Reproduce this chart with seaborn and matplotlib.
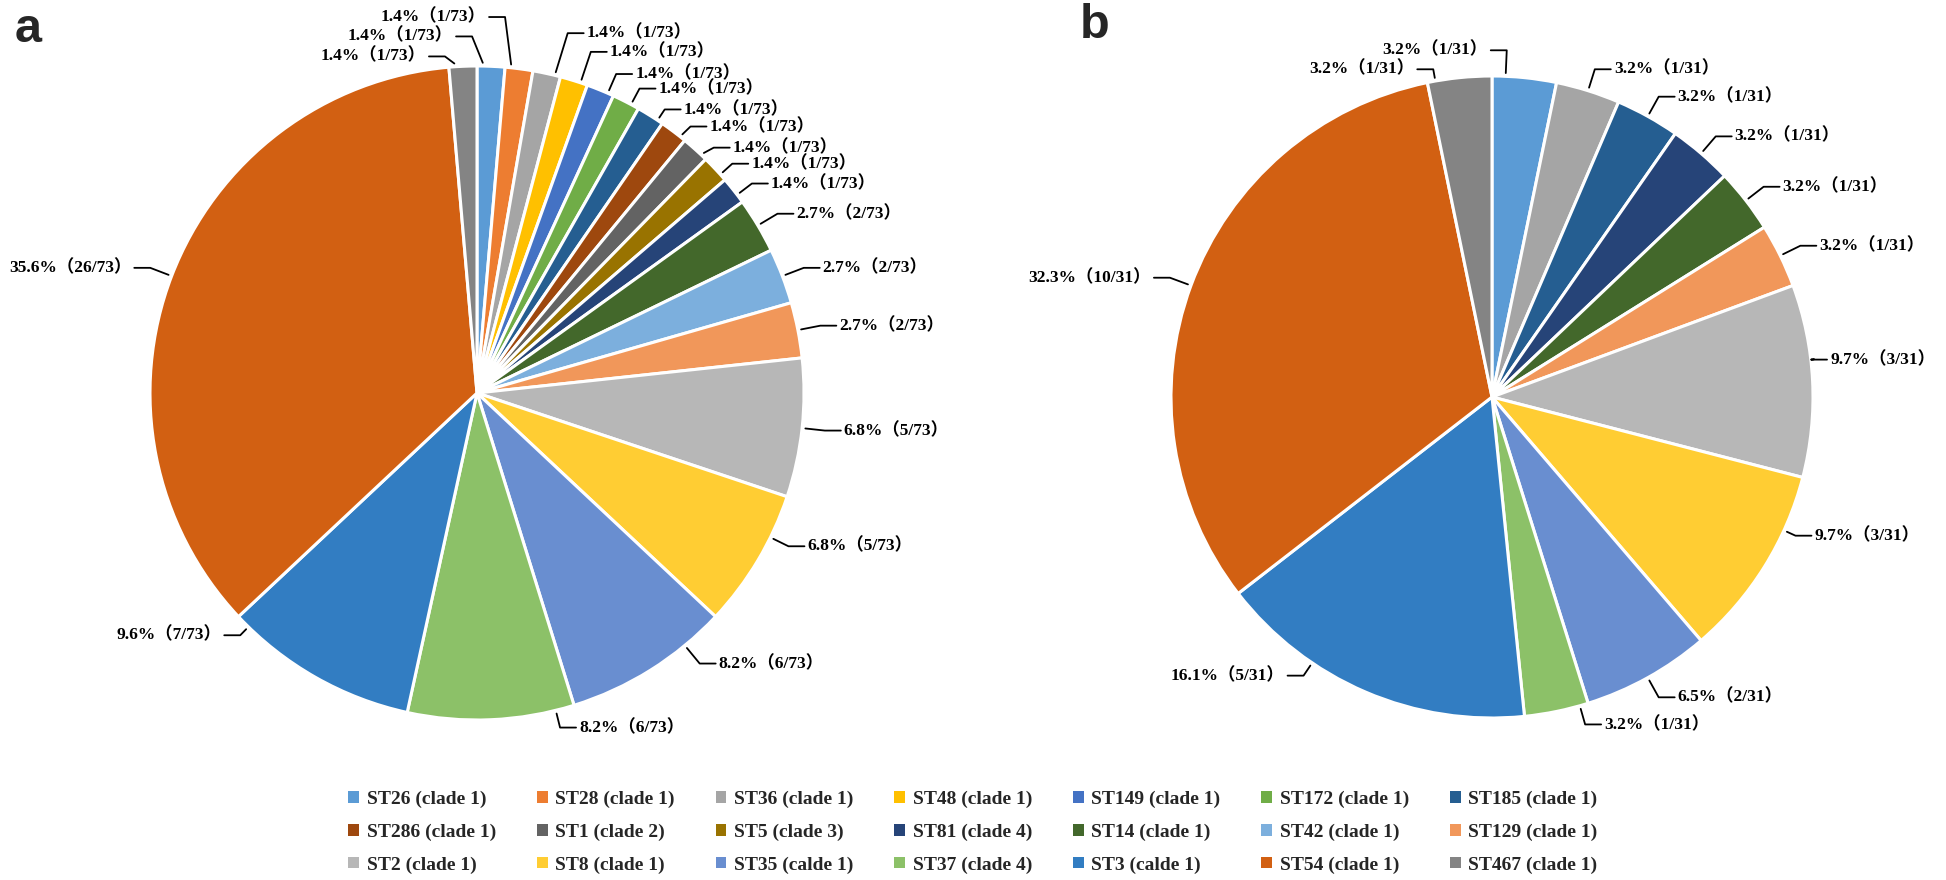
import numpy as np
import matplotlib.pyplot as plt
import seaborn as sns
from matplotlib.patches import Patch

sns.set_theme(style="white")
plt.rcParams['font.family'] = ['Liberation Serif', 'Noto Sans CJK SC']

# sequence types as listed in the legend, with their colours
st_keys = ['ST26', 'ST28', 'ST36', 'ST48', 'ST149', 'ST172', 'ST185',
           'ST286', 'ST1', 'ST5', 'ST81', 'ST14', 'ST42', 'ST129',
           'ST2', 'ST8', 'ST35', 'ST37', 'ST3', 'ST54', 'ST467']
st_labels = ['ST26 (clade 1)', 'ST28 (clade 1)', 'ST36 (clade 1)', 'ST48 (clade 1)',
             'ST149 (clade 1)', 'ST172 (clade 1)', 'ST185 (clade 1)',
             'ST286 (clade 1)', 'ST1 (clade 2)', 'ST5 (clade 3)', 'ST81 (clade 4)',
             'ST14 (clade 1)', 'ST42 (clade 1)', 'ST129 (clade 1)',
             'ST2 (clade 1)', 'ST8 (clade 1)', 'ST35 (calde 1)', 'ST37 (clade 4)',
             'ST3 (calde 1)', 'ST54 (clade 1)', 'ST467 (clade 1)']
st_colors = ['#5B9BD5', '#ED7D31', '#A5A5A5', '#FFC000', '#4472C4', '#70AD47', '#255E91',
             '#9E480E', '#636363', '#997300', '#264478', '#43682B', '#7CAFDD', '#F1975A',
             '#B7B7B7', '#FFCD33', '#698ED0', '#8CC168', '#327DC2', '#D26012', '#848484']
color_of = dict(zip(st_keys, st_colors))

# panel a (73 isolates), slices clockwise from 12 o'clock
a_types = ['ST26', 'ST28', 'ST36', 'ST48', 'ST149', 'ST172', 'ST185', 'ST286', 'ST1',
           'ST5', 'ST81', 'ST14', 'ST42', 'ST129', 'ST2', 'ST8', 'ST35', 'ST37',
           'ST3', 'ST54', 'ST467']
a_counts = [1, 1, 1, 1, 1, 1, 1, 1, 1, 1, 1, 2, 2, 2, 5, 5, 6, 6, 7, 26, 1]

# panel b (31 isolates)
b_types = ['ST26', 'ST36', 'ST185', 'ST81', 'ST14', 'ST129', 'ST2', 'ST8', 'ST35',
           'ST37', 'ST3', 'ST54', 'ST467']
b_counts = [1, 1, 1, 1, 1, 1, 3, 3, 2, 1, 5, 10, 1]

W, H = 1946, 880


def draw_labels(ax, counts, cx, cy, R, nudges):
    n = sum(counts)
    edges = np.cumsum([0] + counts) / n * 360
    for i, c in enumerate(counts):
        start, end = edges[i], edges[i + 1]
        mid = (start + end) / 2
        t = np.radians(mid)
        dx, dy = nudges.get(i, (0, 0))
        ex = cx + 1.07 * R * np.sin(t) + dx
        ey = cy + 1.07 * R * np.cos(t) + dy
        # leader starts on the rim, towards the elbow but inside the slice
        ang = np.degrees(np.arctan2(ex - cx, ey - cy))
        d = (ang - mid + 180) % 360 - 180
        half = (end - start) / 2 - min(1.0, (end - start) / 4)
        pa = np.radians(mid + np.clip(d, -half, half))
        px = cx + 1.01 * R * np.sin(pa)
        py = cy + 1.01 * R * np.cos(pa)
        right = 10 < mid < 180
        sgn = 1 if right else -1
        tx = ex + sgn * 16
        ax.plot([px, ex, tx], [py, ey, ey], color='black', lw=1.3)
        label = f"{100 * c / n:.1f}%（{c}/{n}）"
        ax.text(tx + sgn * 3, ey, label, ha='left' if right else 'right', va='center',
                fontsize=12.5, fontweight='bold', color='black')


fig = plt.figure(figsize=(W / 100, H / 100), dpi=100)
ax = fig.add_axes([0, 0, 1, 1])

ca = (477, H - 393)
cb = (1492, H - 397)
Ra, Rb = 327, 321

wp = dict(edgecolor='white', linewidth=2.2)
ax.pie(a_counts, colors=[color_of[s] for s in a_types], startangle=90, counterclock=False,
       center=ca, radius=Ra, wedgeprops=wp)
ax.pie(b_counts, colors=[color_of[s] for s in b_types], startangle=90, counterclock=False,
       center=cb, radius=Rb, wedgeprops=wp)

draw_labels(ax, a_counts, ca[0], ca[1], Ra,
            {0: (-20, 7), 1: (-17, 29), 2: (16, 18), 3: (10, 7), 4: (7, -5),
             5: (3, -7), 6: (2, -13), 7: (3, -13), 8: (3, -15), 9: (0, -10),
             10: (0, -7), 20: (-17, -13), 15: (11, 26),
             16: (37, 26), 17: (68, 15), 18: (-64, 62)})
draw_labels(ax, b_counts, cb[0], cb[1], Rb,
            {0: (-20, 5), 12: (-24, -14), 6: (-24, 20), 10: (-53, 37),
             7: (12, 43), 9: (24, 9)})

ax.set_xlim(0, W)
ax.set_ylim(0, H)
ax.set_aspect('auto')
ax.axis('off')

fig.text(15 / W, 1 - 42 / H, 'a', fontsize=35, fontweight='bold', family='Liberation Sans',
         va='baseline', ha='left')
fig.text(1080 / W, 1 - 38 / H, 'b', fontsize=35, fontweight='bold', family='Liberation Sans',
         va='baseline', ha='left')

# legend: matplotlib fills by column, the figure reads by row
handles = [Patch(facecolor=c, edgecolor='none') for c in st_colors]
ncol, nrow = 7, 3
order = [r * ncol + col for col in range(ncol) for r in range(nrow)]
fig.legend([handles[k] for k in order], [st_labels[k] for k in order],
           ncol=ncol, loc='center', bbox_to_anchor=(0.5, 1 - 832 / H), frameon=False,
           prop={'family': 'Liberation Serif', 'weight': 'bold', 'size': 14},
           handlelength=0.55, handleheight=0.55, handletextpad=0.4,
           columnspacing=2.1, labelspacing=0.8)

fig.savefig('out.png', dpi=100, facecolor='white')
